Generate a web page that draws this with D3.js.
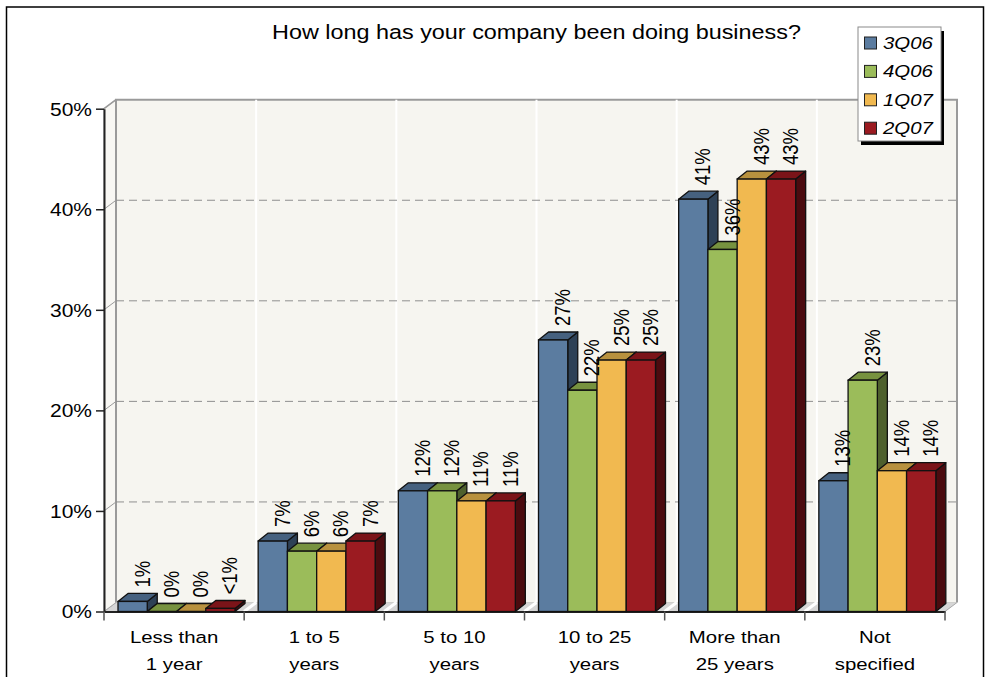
<!DOCTYPE html>
<html>
<head>
<meta charset="utf-8">
<script src="https://cdn.jsdelivr.net/npm/d3@7"></script>
<style>
  html, body { margin: 0; padding: 0; background: #fff; }
  svg { display: block; }
  text { font-family: "Liberation Sans", Arial, Helvetica, sans-serif; fill: #000; }
</style>
</head>
<body>
<svg id="chart" width="989" height="677"></svg>
<script>
// ---- data ----
const categories = [["Less than", "1 year"], ["1 to 5", "years"], ["5 to 10", "years"],
                    ["10 to 25", "years"], ["More than", "25 years"], ["Not", "specified"]];
const seriesNames = ["3Q06", "4Q06", "1Q07", "2Q07"];
const values3Q06 = [1, 7, 12, 27, 41, 13];
const values4Q06 = [0, 6, 12, 22, 36, 23];
const values1Q07 = [0, 6, 11, 25, 43, 14];
const values2Q07 = [0.3, 7, 11, 25, 43, 14];
const labels3Q06 = ["1%", "7%", "12%", "27%", "41%", "13%"];
const labels4Q06 = ["0%", "6%", "12%", "22%", "36%", "23%"];
const labels1Q07 = ["0%", "6%", "11%", "25%", "43%", "14%"];
const labels2Q07 = ["<1%", "7%", "11%", "25%", "43%", "14%"];
const yTicks = [0, 10, 20, 30, 40, 50];
const title = "How long has your company been doing business?";

const seriesValues = [values3Q06, values4Q06, values1Q07, values2Q07];
const seriesLabels = [labels3Q06, labels4Q06, labels1Q07, labels2Q07];
const palette = {
  "3Q06": { front: "#5b7ca0", top: "#46617f", side: "#2e4156" },
  "4Q06": { front: "#9bbc5a", top: "#77923f", side: "#4e602d" },
  "1Q07": { front: "#f1b950", top: "#b8913e", side: "#7a5e25" },
  "2Q07": { front: "#9b1b21", top: "#7b1419", side: "#4b0b0f" }
};

// ---- layout ----
const svg = d3.select("#chart");
const SX = 1.2;                 // horizontal text stretch
const wallDx = 12, wallDy = -9; // depth of the back wall
const barDx = 10, barDy = -8;   // depth of each bar

const y = d3.scaleLinear().domain([0, 50]).range([611.5, 108.7]);
const x0 = d3.scaleBand().domain(d3.range(categories.length)).range([104, 945]);
const x1 = d3.scaleBand().domain(seriesNames).range([14, 131]);

const left = x0.range()[0], right = x0.range()[1];
const y0 = y(0), yTop = y(50);

function stretchedText(g, x, yy, str, size, anchor, extra) {
  return g.append("text")
    .attr("transform", `translate(${x},${yy}) scale(${SX},1)` + (extra || ""))
    .attr("font-size", size)
    .attr("text-anchor", anchor)
    .text(str);
}

// outer frame
svg.append("rect").attr("x", 6.5).attr("y", 7).attr("width", 977).attr("height", 700)
  .attr("fill", "#fff").attr("stroke", "#000").attr("stroke-width", 1.5);

// ---- 3D box: floor, side wall, back wall ----
const box = svg.append("g");
box.append("polygon")
  .attr("points", [[left, y0], [right, y0], [right + wallDx, y0 + wallDy], [left + wallDx, y0 + wallDy]].join(" "))
  .attr("fill", "#d6d6d6").attr("stroke", "#a8a8a8").attr("stroke-width", 1);
box.append("polygon")
  .attr("points", [[left, y0], [left, yTop], [left + wallDx, yTop + wallDy], [left + wallDx, y0 + wallDy]].join(" "))
  .attr("fill", "#f8f7f3").attr("stroke", "#a8a8a8").attr("stroke-width", 1);
box.append("rect")
  .attr("x", left + wallDx).attr("y", yTop + wallDy)
  .attr("width", right - left).attr("height", y0 - yTop)
  .attr("fill", "#f6f5f0");
// wall outline (top, right, back-left edges)
box.append("path")
  .attr("d", `M${left + wallDx},${y0 + wallDy}V${yTop + wallDy}H${right + wallDx}V${y0 + wallDy}`)
  .attr("fill", "none").attr("stroke", "#9a9a9a").attr("stroke-width", 2);
box.append("line")
  .attr("x1", left).attr("y1", yTop).attr("x2", left + wallDx).attr("y2", yTop + wallDy)
  .attr("stroke", "#9a9a9a").attr("stroke-width", 1.5);

// vertical category grid lines on the wall and floor
const bounds = d3.range(1, categories.length).map(i => x0(i));
bounds.forEach(bx => {
  box.append("line")
    .attr("x1", bx + wallDx).attr("x2", bx + wallDx)
    .attr("y1", yTop + wallDy).attr("y2", y0 + wallDy)
    .attr("stroke", "#ffffff").attr("stroke-width", 2);
  box.append("line")
    .attr("x1", bx + wallDx).attr("y1", y0 + wallDy).attr("x2", bx).attr("y2", y0)
    .attr("stroke", "#ffffff").attr("stroke-width", 3);
});

// horizontal dashed grid lines
yTicks.filter(t => t > 0 && t < 50).forEach(t => {
  box.append("line")
    .attr("x1", left + wallDx).attr("x2", right + wallDx)
    .attr("y1", y(t) + wallDy).attr("y2", y(t) + wallDy)
    .attr("stroke", "#8f8f8f").attr("stroke-width", 1).attr("stroke-dasharray", "8,5");
});
yTicks.filter(t => t > 0 && t < 50).forEach(t => {
  box.append("line")
    .attr("x1", left).attr("y1", y(t)).attr("x2", left + wallDx).attr("y2", y(t) + wallDy)
    .attr("stroke", "#9a9a9a").attr("stroke-width", 1);
});

// ---- axes ----
const yAxis = svg.append("g").attr("transform", `translate(${left},0)`)
  .call(d3.axisLeft(y).tickValues(yTicks).tickFormat(d => d + "%").tickSize(8).tickSizeOuter(0).tickPadding(2));
yAxis.select(".domain").attr("stroke", "#222").attr("stroke-width", 2);
yAxis.selectAll(".tick line").attr("stroke", "#222").attr("stroke-width", 1.5);
yAxis.selectAll(".tick text")
  .attr("font-size", 17.5)
  .attr("font-family", "Liberation Sans, Arial, sans-serif")
  .attr("fill", "#000")
  .attr("dy", "0.36em")
  .attr("transform", `scale(${SX},1)`);

const xAxis = svg.append("g").attr("transform", `translate(0,${y0})`)
  .call(d3.axisBottom(x0).tickSize(0).tickSizeOuter(0).tickFormat(""));
xAxis.select(".domain").attr("stroke", "#222").attr("stroke-width", 2);
d3.range(categories.length + 1).forEach(i => {
  const bx = i < categories.length ? x0(i) : right;
  svg.append("line").attr("x1", bx).attr("x2", bx).attr("y1", y0).attr("y2", y0 + 9)
    .attr("stroke", "#555").attr("stroke-width", 1.5);
});
const catG = svg.append("g");
categories.forEach((lines, i) => {
  const cx = x0(i) + x0.bandwidth() / 2;
  lines.forEach((ln, k) => stretchedText(catG, cx, 643 + k * 27, ln, 17, "middle"));
});

// ---- bars ----
const barsG = svg.append("g");
categories.forEach((c, i) => {
  seriesNames.forEach((s, j) => {
    const v = seriesValues[j][i];
    const bx = x0(i) + x1(s), bw = x1.bandwidth();
    const yt = y(v);
    const col = palette[s];
    barsG.append("polygon")
      .attr("points", [[bx + bw, yt], [bx + bw + barDx, yt + barDy], [bx + bw + barDx, y0 + barDy], [bx + bw, y0]].join(" "))
      .attr("fill", col.side).attr("stroke", "#111").attr("stroke-width", 1.3).attr("stroke-linejoin", "round");
    barsG.append("polygon")
      .attr("points", [[bx, yt], [bx + barDx, yt + barDy], [bx + bw + barDx, yt + barDy], [bx + bw, yt]].join(" "))
      .attr("fill", col.top).attr("stroke", "#111").attr("stroke-width", 1.3).attr("stroke-linejoin", "round");
    barsG.append("rect")
      .attr("x", bx).attr("y", yt).attr("width", bw).attr("height", y0 - yt)
      .attr("fill", col.front).attr("stroke", "#111").attr("stroke-width", 1.3);
  });
});

// value labels, rotated
const labG = svg.append("g");
categories.forEach((c, i) => {
  seriesNames.forEach((s, j) => {
    const v = seriesValues[j][i];
    const bx = x0(i) + x1(s), bw = x1.bandwidth();
    labG.append("text")
      .attr("transform", `translate(${bx + bw / 2 + 17},${y(v) + barDy - 6}) scale(${SX},1) rotate(-90)`)
      .attr("font-size", 18.5)
      .attr("text-anchor", "start")
      .text(seriesLabels[j][i]);
  });
});

// ---- title ----
stretchedText(svg, (left + right) / 2 + wallDx, 39, title, 19.5, "middle");

// ---- legend ----
const lg = svg.append("g").attr("transform", "translate(858,27)");
lg.append("rect").attr("x", 3).attr("y", 4).attr("width", 83).attr("height", 114).attr("fill", "#000");
lg.append("rect").attr("x", 0).attr("y", 0).attr("width", 83).attr("height", 114)
  .attr("fill", "#fff").attr("stroke", "#8a8a8a").attr("stroke-width", 1);
seriesNames.forEach((s, j) => {
  const cy = 16 + j * 28.4;
  lg.append("rect").attr("x", 6.5).attr("y", cy - 6).attr("width", 12).attr("height", 12)
    .attr("fill", palette[s].front).attr("stroke", "#222").attr("stroke-width", 1);
  stretchedText(lg, 25, cy + 6, s, 17, "start").attr("font-style", "italic");
});
</script>
</body>
</html>
